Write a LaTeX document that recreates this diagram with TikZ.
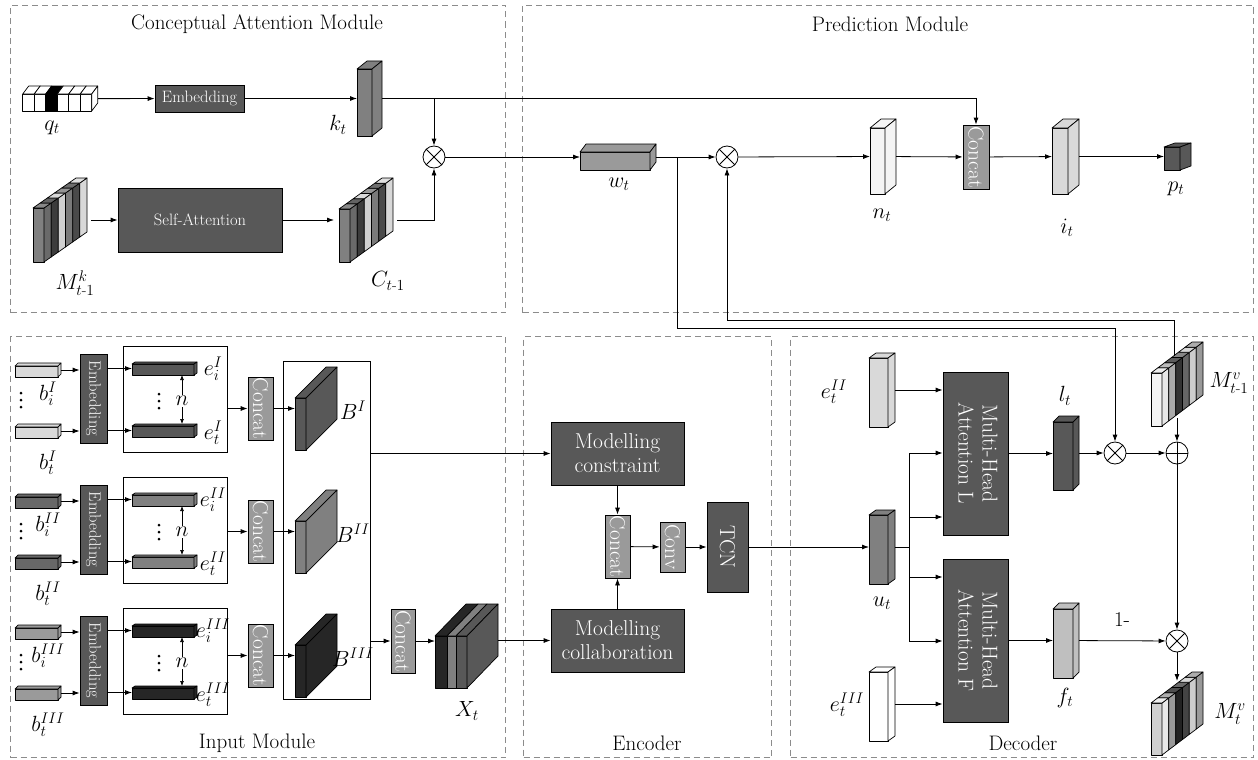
\RequirePackage{fix-cm}
\documentclass[tikz,border=0pt]{standalone}
\usepackage{amsmath}
\usepackage{graphicx}
\usetikzlibrary{arrows.meta}
\newcommand\fs{\fontsize{21}{24}\selectfont}
\newcommand\fb{\fontsize{21.5}{24}\selectfont}
\newcommand\fm{\fontsize{22}{25}\selectfont}
\newcommand\fsS{\fontsize{16.5}{19}\selectfont}
\definecolor{bdark}{HTML}{585858}
\definecolor{cgray}{HTML}{9A9A9A}
\definecolor{mgray}{HTML}{808080}
\definecolor{lgray}{HTML}{D9D9D9}
\definecolor{wgray}{HTML}{F4F4F4}
\definecolor{fgray}{HTML}{BFBFBF}
\definecolor{blk}{HTML}{262626}
\definecolor{btwo}{HTML}{686868}
\definecolor{bthree}{HTML}{9A9A9A}
\definecolor{modc}{HTML}{8C8C8C}
\definecolor{sA}{HTML}{6A6A6A}
\definecolor{sB}{HTML}{3C3C3C}
\definecolor{sC}{HTML}{D0D0D0}
\definecolor{sD}{HTML}{7A7A7A}
\definecolor{sE}{HTML}{4A4A4A}
\definecolor{sF}{HTML}{D8D8D8}
\definecolor{vA}{HTML}{E8E8E8}
\definecolor{vB}{HTML}{AAAAAA}
\definecolor{vC}{HTML}{333333}
\definecolor{vD}{HTML}{666666}
\definecolor{vE}{HTML}{CCCCCC}
\definecolor{vF}{HTML}{999999}
\definecolor{wA}{HTML}{222222}
\definecolor{wB}{HTML}{444444}
\definecolor{frv}{HTML}{D0D0D0}
\tikzset{
  mod/.style={draw=modc, line width=1pt, dash pattern=on 6pt off 4pt, inner sep=0, anchor=north west},
  ttl/.style={font=\fs},
  lab/.style={font=\fm, inner sep=0},
  dk/.style={draw=black, fill=bdark, text=white, line width=0.8pt, inner sep=0, align=center, font=\fb},
  cg/.style={draw=black, fill=cgray, text=white, line width=0.8pt, inner sep=0, font=\fb},
  arr/.style={line width=0.8pt, -{Latex[length=7pt,width=5pt]}},
  ln/.style={line width=0.8pt},
  dbl/.style={line width=0.7pt, {Latex[length=5pt,width=4pt]}-{Latex[length=5pt,width=4pt]}},
  otimes/.style={circle, draw, fill=white, line width=0.8pt, minimum size=22pt, inner sep=0,
    path picture={\draw[line width=0.8pt] (path picture bounding box.north west) -- (path picture bounding box.south east)
      (path picture bounding box.north east) -- (path picture bounding box.south west);}},
  oplus/.style={circle, draw, fill=white, line width=0.8pt, minimum size=22pt, inner sep=0,
    path picture={\draw[line width=0.8pt] (path picture bounding box.north) -- (path picture bounding box.south)
      (path picture bounding box.east) -- (path picture bounding box.west);}},
  face/.style={line width=0.7pt, line join=round},
}
% cuboid: name, x, y(front top), front width, height, dx, dy, colour
\newcommand{\cuboid}[8]{%
  \filldraw[face, fill=#8] (#2,#3) rectangle ++(#4,#5);
  \filldraw[face, fill=#8] (#2,#3) -- ++(#6,#7) -- ++(#4,0) -- ++({-(#6)},{-(#7)}) -- cycle;
  \filldraw[face, fill=#8] ({#2+#4},#3) -- ++(#6,#7) -- ++(0,#5) -- ++({-(#6)},{-(#7)}) -- cycle;
  \pgfmathsetmacro\cbW{#4+#6}\pgfmathsetmacro\cbH{#5-(#7)}\pgfmathsetmacro\cbT{#3+(#7)}%
  \node[inner sep=0, outer sep=0, minimum width=\cbW pt, minimum height=\cbH pt, anchor=north west] (#1) at (#2,\cbT) {};
}
% slab stack: name, x, y, fw, h, dx, dy, front colour, list of 6 strip colours
\newcommand{\slabs}[9]{%
  \filldraw[face, fill=#8] (#2,#3) rectangle ++(#4,#5);
  \foreach \c [count=\i from 0] in {#9} {
    \pgfmathsetmacro\ax{#2+#4+\i*(#6)/6}
    \pgfmathsetmacro\ay{#3+\i*(#7)/6}
    \pgfmathsetmacro\bx{#2+#4+(\i+1)*(#6)/6}
    \pgfmathsetmacro\by{#3+(\i+1)*(#7)/6}
    \filldraw[face, fill=\c] (\ax,\ay) -- (\bx,\by) -- (\bx,\by+#5) -- (\ax,\ay+#5) -- cycle;
    \filldraw[face, fill=\c!80!white] (\ax-#4,\ay) -- (\bx-#4,\by) -- (\bx,\by) -- (\ax,\ay) -- cycle;
  }
  \pgfmathsetmacro\cbW{#4+#6}\pgfmathsetmacro\cbH{#5-(#7)}\pgfmathsetmacro\cbT{#3+(#7)}%
  \node[inner sep=0, outer sep=0, minimum width=\cbW pt, minimum height=\cbH pt, anchor=north west] (#1) at (#2,\cbT) {};
}
% vertical ellipsis drawn as three dots: x, y centre
\newcommand{\vdotsat}[2]{%
  \foreach \d in {-7,0,7} {\fill ({#1},{#2+(\d)}) circle (1.5pt);}
}
% input row: id, left offset, right offset, b colour, e colour, B colour, numeral
\newcommand{\inrow}[7]{%
  \cuboid{bi#1}{15}{366+#2}{43}{11}{3}{-3}{#4}
  \cuboid{bt#1}{15}{427+#2}{43}{11}{3}{-3}{#4}
  \vdotsat{21}{400+#2}
  \node[lab] (bil#1) at (48,394+#2) {$b^{#7}_{i}$};
  \node[lab] (btl#1) at (48,463+#2) {$b^{#7}_{t}$};
  \node[dk, font=\fsS, minimum width=27pt, minimum height=89pt] (emb#1) at (93.5,398.5+#2) {\rotatebox{-90}{Embedding}};
  \draw[arr] (bi#1) -- (bi#1 -| emb#1.west);
  \draw[arr] (bt#1) -- (bt#1 -| emb#1.west);
  \node[draw, line width=0.8pt, minimum width=104pt, minimum height=106pt, inner sep=0] (rc#1) at (175,399+#2) {};
  \cuboid{ei#1}{132}{364+#2}{62}{11}{3}{-2}{#5}
  \cuboid{et#1}{132}{426+#2}{62}{11}{3}{-2}{#5}
  \draw[arr] (ei#1 -| emb#1.east) -- (ei#1);
  \draw[arr] (et#1 -| emb#1.east) -- (et#1);
  \vdotsat{159}{401+#2}
  \draw[dbl] ([xshift=50pt]ei#1.south west) -- ([xshift=50pt]et#1.north west);
  \node[lab, fill=white, inner sep=1pt] (n#1) at (182,401+#2) {$n$};
  \node[lab] (eil#1) at (213,369+#2) {$e^{#7}_{i}$};
  \node[lab] (etl#1) at (213,433+#2) {$e^{#7}_{t}$};
  \node[cg, minimum width=25pt, minimum height=63pt] (cc#1) at (260.5,408.5+#3) {\rotatebox{-90}{Concat}};
  \draw[arr] (cc#1.west -| rc#1.east) -- (cc#1.west);
  \cuboid{B#1}{295}{398+#3}{11}{52}{31}{-31}{#6}
  \draw[arr] (cc#1) -- (B#1);
  \node[lab] (Bl#1) at (353,410+#3) {$B^{#7}$};
}
\begin{document}
\begin{tikzpicture}[x=1pt,y=-1pt]
\useasboundingbox (0,0) rectangle (1258,760);
% ---------- module frames ----------
\node[mod, minimum width=495pt, minimum height=307pt] (camM) at (10,5) {};
\node[mod, minimum width=731pt, minimum height=307pt] (preM) at (522,5) {};
\node[mod, minimum width=495pt, minimum height=421pt] (inM) at (10,336) {};
\node[mod, minimum width=248pt, minimum height=421pt] (encM) at (523,336) {};
\node[mod, minimum width=463pt, minimum height=421pt] (decM) at (790,336) {};
\node[ttl] (camT) at (257,24) {Conceptual Attention Module};
\node[ttl] (preT) at (890,24) {Prediction Module};
\node[ttl] (inT) at (257,743) {Input Module};
\node[ttl] (encT) at (647,743) {Encoder};
\node[ttl] (decT) at (1023,743) {Decoder};
% ---------- Conceptual attention ----------
\foreach \i in {0,...,5} {
  \pgfmathsetmacro\qx{22.7+\i*11.5}
  \ifnum\i=2 \def\qc{black}\else\def\qc{white}\fi
  \filldraw[face, fill=\qc] (\qx,94) rectangle ++(11.5,17);
  \filldraw[face, fill=\qc] (\qx,94) -- ++(6,-8) -- ++(11.5,0) -- ++(-6,8) -- cycle;
}
\filldraw[face, fill=white] (91.7,94) -- (97.7,86) -- (97.7,103) -- (91.7,111) -- cycle;
\node[inner sep=0, minimum width=75pt, minimum height=25pt, anchor=north west] (qt) at (22.7,86) {};
\node[lab] (qtL) at (52,128) {$q_t$};
\node[dk, font=\fsS, minimum width=89pt, minimum height=27pt] (emb0) at (199.5,98.5) {Embedding};
\draw[arr] (qt) -- (emb0);
\cuboid{kt}{357}{69}{15}{67}{10}{-8}{mgray}
\node[lab] (ktL) at (338,125) {$k_t$};
\draw[arr] (emb0) -- (kt);
\node[otimes] (ot1) at (434,157) {};
\slabs{Mk}{33}{208}{11}{54}{43}{-30}{mgray}{sA,sB,sC,sD,sE,sF}
\node[lab] (MkL) at (75,283) {$M^{k}_{t\text{-}1}$};
\node[dk, font=\fsS, minimum width=164pt, minimum height=64pt] (sa) at (200,220) {Self-Attention};
\draw[arr, shorten <=4pt] (Mk) -- (sa);
\slabs{Ct}{339}{209}{11}{53}{43}{-31}{mgray}{sA,sB,sC,sD,sE,sF}
\node[lab] (CtL) at (388,281) {$C_{t\text{-}1}$};
\draw[arr, shorten >=5pt] (sa) -- (Ct);
\draw[arr, shorten <=4pt] (Ct.east) -| (ot1.south);
% ---------- Prediction ----------
\cuboid{wt}{580}{152}{70}{18}{6}{-8}{cgray}
\node[lab] (wtL) at (619,184) {$w_t$};
\node[otimes] (ot2) at (727,157) {};
\cuboid{nt}{870}{128}{15}{66}{11}{-9}{wgray}
\node[lab] (ntL) at (882,215) {$n_t$};
\node[cg, minimum width=26pt, minimum height=64pt] (cc0) at (976,157) {\rotatebox{-90}{Concat}};
\cuboid{it}{1052}{128}{16}{66}{11}{-9}{lgray}
\node[lab] (itL) at (1067,228) {$i_t$};
\cuboid{pt}{1164}{147}{16}{23}{11}{-4}{bdark}
\node[lab] (ptL) at (1176,189) {$p_t$};
\draw[arr] (kt.east) -| (ot1.north);
\draw[arr] (kt.east) -| (cc0.north);
\draw[arr] (ot1) -- (wt);
\draw[arr] (wt) -- (ot2);
\draw[arr] (ot2) -- (nt);
\draw[arr] (nt) -- (cc0);
\draw[arr] (cc0) -- (it);
\draw[arr] (it) -- (pt);
% ---------- Input module ----------
\node[draw, line width=0.8pt, minimum width=87pt, minimum height=338pt, inner sep=0] (bigR) at (326.5,530) {};
\inrow{1}{0}{0}{lgray}{bdark}{bdark}{I}
\inrow{2}{131}{123}{btwo}{mgray}{mgray}{II}
\inrow{3}{262}{247}{bthree}{blk}{blk}{III}
\node[cg, minimum width=24pt, minimum height=64pt] (cc4) at (403,641) {\rotatebox{-90}{Concat}};
\draw[arr] (cc4.west -| bigR.east) -- (cc4.west);
% X_t
\filldraw[face, fill=blk] (435,636) rectangle (447,688);
\filldraw[face, fill=mgray] (447,636) rectangle (456,688);
\filldraw[face, fill=bdark] (456,636) rectangle (467,688);
\filldraw[face, fill=blk] (435,636) -- (447,636) -- (478,604) -- (466,604) -- cycle;
\filldraw[face, fill=mgray] (447,636) -- (456,636) -- (487,604) -- (478,604) -- cycle;
\filldraw[face, fill=bdark] (456,636) -- (467,636) -- (498,604) -- (487,604) -- cycle;
\filldraw[face, fill=bdark] (467,636) -- (498,604) -- (498,656) -- (467,688) -- cycle;
\node[inner sep=0, minimum width=63pt, minimum height=84pt, anchor=north west] (Xt) at (435,604) {};
\node[lab] (XtL) at (467,711) {$X_t$};
\draw[arr] (cc4.east) -- (cc4.east -| Xt.west);
% ---------- Encoder ----------
\node[dk, minimum width=133pt, minimum height=63pt] (mc) at (617.5,453.5) {Modelling\\constraint};
\node[dk, minimum width=133pt, minimum height=63pt] (mcol) at (617.5,640.5) {Modelling\\collaboration};
\draw[arr] (mc.west -| bigR.east) -- (mc.west);
\draw[arr] (Xt.east |- mcol.west) -- (mcol.west);
\node[cg, minimum width=25pt, minimum height=63pt] (cc5) at (617.5,546.5) {\rotatebox{-90}{Concat}};
\node[cg, minimum width=25pt, minimum height=50pt] (conv) at (672.5,547) {\rotatebox{-90}{Conv}};
\node[dk, minimum width=41pt, minimum height=90pt] (tcn) at (727.5,547) {\rotatebox{-90}{TCN}};
\draw[arr] (mc) -- (cc5);
\draw[arr] (mcol) -- (cc5);
\draw[arr] (cc5) -- (conv);
\draw[arr] (conv) -- (tcn);
% ---------- Decoder ----------
\cuboid{ut}{869}{515}{19}{69}{7}{-5}{mgray}
\node[lab] (utL) at (882,603) {$u_t$};
\draw[arr] (tcn) -- (ut);
\cuboid{e2t}{869}{358}{19}{69}{7}{-5}{lgray}
\node[lab] (e2tL) at (834,392) {$e^{II}_{t}$};
\cuboid{e3t}{869}{672}{19}{69}{7}{-5}{white}
\node[lab] (e3tL) at (847,705) {$e^{III}_{t}$};
\node[dk, minimum width=65pt, minimum height=163pt] (mhaL) at (975.5,453.5) {\rotatebox{-90}{\begin{tabular}{@{}c@{}}Multi-Head\\Attention L\end{tabular}}};
\node[dk, minimum width=65pt, minimum height=163pt] (mhaF) at (975.5,640.5) {\rotatebox{-90}{\begin{tabular}{@{}c@{}}Multi-Head\\Attention F\end{tabular}}};
\draw[arr] (e2t.east) -- (e2t.east -| mhaL.west);
\draw[arr] (e3t.east) -- (e3t.east -| mhaF.west);
\coordinate (ub) at (909,547);
\coordinate (ubT) at (909,453);
\coordinate (ub2) at (909,517);
\coordinate (ub3) at (909,577);
\coordinate (ubB) at (909,641);
\draw[ln] (ut.east) -- (ub);
\draw[ln] (ubT) -- (ubB);
\draw[arr] (ubT) -- (ubT -| mhaL.west);
\draw[arr] (ub2) -- (ub2 -| mhaL.west);
\draw[arr] (ub3) -- (ub3 -| mhaF.west);
\draw[arr] (ubB) -- (ubB -| mhaF.west);
\cuboid{lt}{1053}{422}{20}{68}{6}{-6}{bdark}
\node[lab] (ltL) at (1065,396) {$l_t$};
\cuboid{ft}{1053}{609}{20}{69}{6}{-6}{fgray}
\node[lab] (ftL) at (1065,698) {$f_t$};
\node[otimes] (ot3) at (1115,453) {};
\node[oplus] (opl) at (1177,453) {};
\node[otimes] (ot4) at (1177,641) {};
\draw[arr] (mhaL.east) -- (mhaL.east -| lt.west);
\draw[arr] (lt) -- (ot3);
\draw[arr] (ot3) -- (opl);
\draw[arr] (mhaF.east) -- (mhaF.east -| ft.west);
\draw[arr] (ft) -- (ot4);
\node[lab, font=\fs] (onem) at (1122,620) {1-};
\draw[arr] (opl) -- (ot4);
\slabs{Mv}{1151}{373}{11}{53}{41}{-31}{wgray}{vA,vB,vC,vD,vE,vF}
\node[lab] (MvL) at (1229,383) {$M^{v}_{t\text{-}1}$};
\slabs{Mvt}{1151}{703}{11}{52}{41}{-31}{frv}{vA,vF,wA,wB,vE,vF}
\node[lab] (MvtL) at (1230,714) {$M^{v}_{t}$};
\coordinate (mvtop) at (1174,356);
\coordinate (j2) at (1174,320);
\coordinate (mvbot) at (1177,418);
\coordinate (mvttop) at (1177,681);
\coordinate (br1) at (677,157);
\coordinate (j1) at (677,328);
\draw[arr] (mvtop) -- (j2) -| (ot2.south);
\draw[arr] (br1) -- (j1) -| (ot3.north);
\draw[arr] (mvbot) -- (opl.north);
\draw[arr] (ot4) -- (mvttop);
\end{tikzpicture}
\end{document}
